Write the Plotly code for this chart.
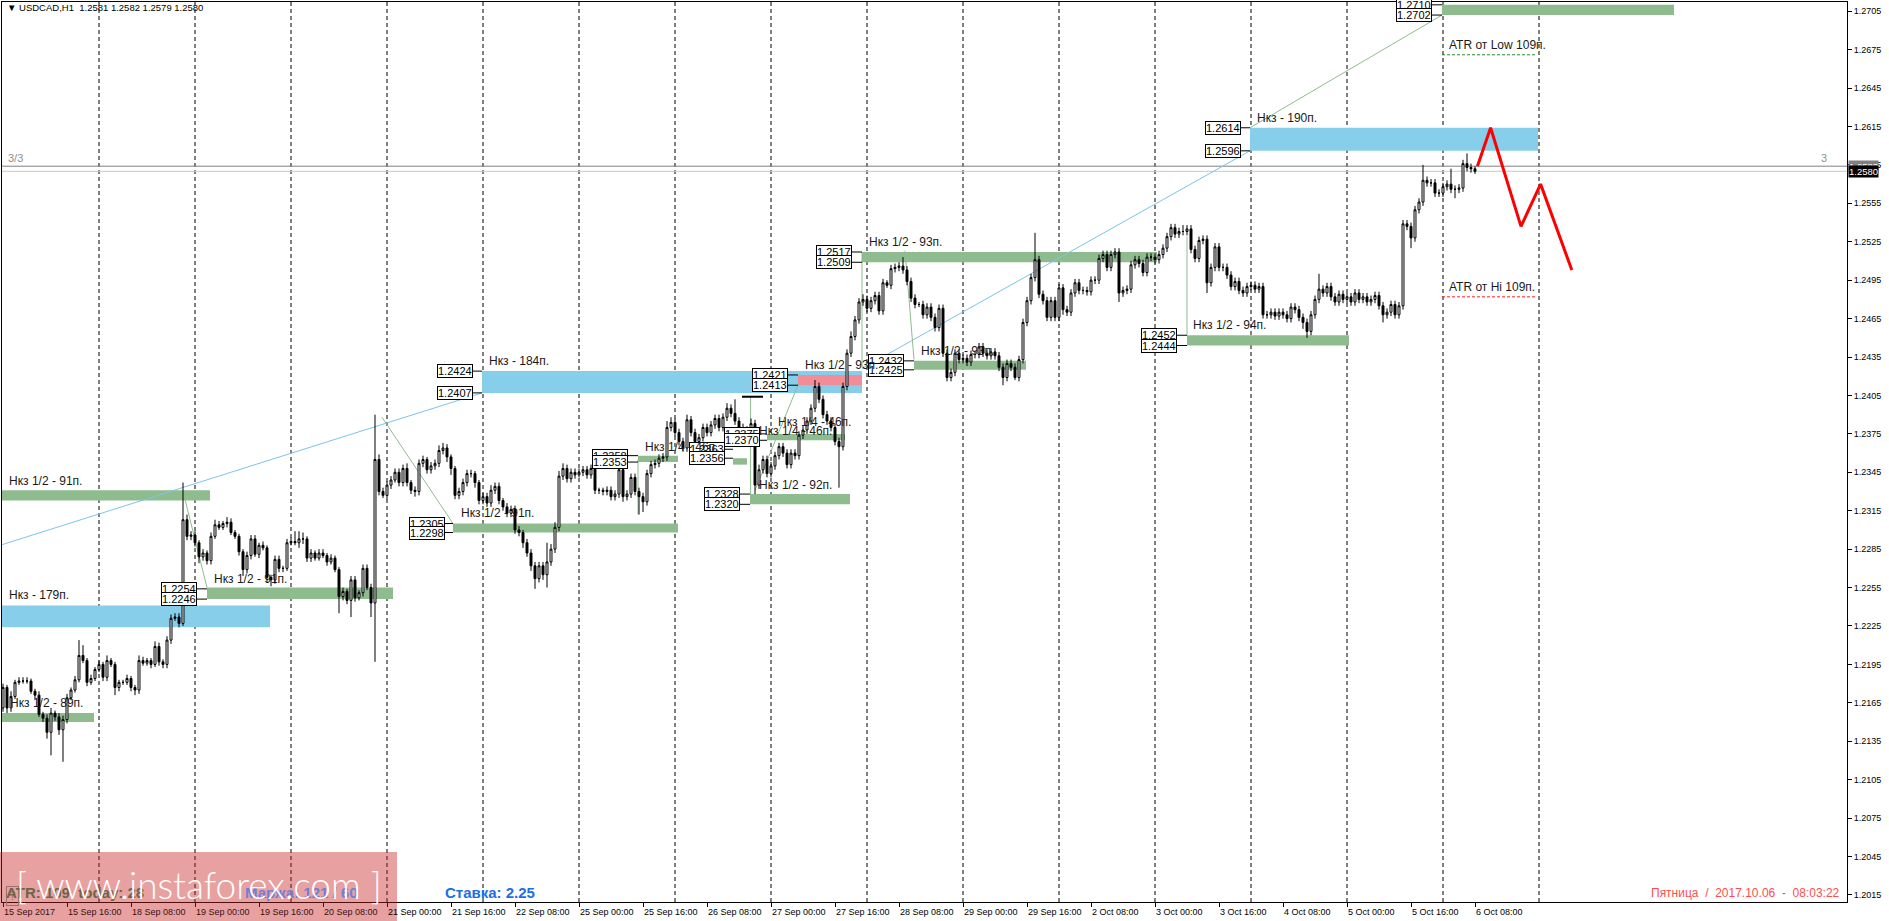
import plotly.graph_objects as go

# ---------------- DATA (prices in pips above 1.2000) ----------------
BASE = 1.2
PIP = 0.0001
OPEN0 = 161

CLOSE = [
    # 15 Sep
    177, 161, 170, 181, 182, 182, 182, 174, 171, 156, 153, 142, 157, 154, 144, 152, 169, 175, 183, 202, 198, 181, 184, 191,
    # 18 Sep
    195, 185, 198, 195, 177, 181, 181, 184, 177, 175, 198, 196, 198, 195, 209, 197, 195, 214, 231, 232, 227, 308, 295, 296,
    # 19 Sep
    290, 279, 282, 276, 295, 304, 302, 305, 306, 298, 295, 283, 269, 280, 293, 281, 288, 286, 263, 261, 277, 270, 270, 290,
    # 20 Sep
    291, 290, 293, 293, 278, 282, 278, 282, 280, 275, 278, 269, 248, 252, 245, 261, 247, 251, 270, 255, 243, 355, 330, 327,
    # 21 Sep
    335, 339, 345, 337, 348, 337, 331, 330, 352, 355, 347, 350, 352, 362, 364, 357, 348, 327, 330, 337, 344, 344, 337, 323,
    # 22 Sep
    326, 321, 331, 334, 323, 318, 313, 316, 300, 298, 290, 282, 272, 262, 272, 265, 275, 285, 302, 342, 348, 340, 345, 343,
    # 25 Sep
    345, 347, 343, 348, 331, 331, 330, 331, 326, 328, 347, 326, 328, 341, 330, 326, 322, 344, 351, 352, 356, 357, 380, 384,
    # 26 Sep
    376, 369, 364, 386, 376, 369, 372, 380, 376, 382, 387, 380, 388, 395, 391, 385, 380, 370, 378, 383, 335, 347, 355, 344,
    # 27 Sep
    350, 358, 365, 360, 351, 360, 358, 374, 378, 385, 395, 412, 402, 390, 385, 380, 369, 365, 412, 438, 451, 464, 478, 480,
    # 28 Sep
    473, 479, 483, 471, 493, 491, 504, 505, 506, 503, 494, 481, 476, 476, 468, 474, 466, 458, 473, 438, 419, 423, 438, 433,
    # 29 Sep
    434, 431, 437, 437, 443, 438, 436, 439, 436, 427, 419, 430, 427, 419, 433, 462, 479, 497, 511, 484, 479, 466, 479, 466,
    # 2 Oct
    489, 472, 470, 485, 493, 487, 487, 486, 495, 495, 512, 515, 505, 515, 517, 485, 487, 488, 507, 511, 508, 501, 513, 513,
    # 3 Oct
    511, 515, 520, 529, 536, 531, 533, 533, 535, 519, 512, 526, 527, 493, 505, 521, 505, 505, 499, 490, 494, 487, 485, 490,
    # 4 Oct
    491, 488, 490, 468, 468, 470, 467, 470, 468, 465, 474, 472, 466, 462, 455, 468, 480, 488, 485, 490, 482, 478, 484, 480,
    # 5 Oct
    482, 478, 485, 480, 482, 478, 480, 483, 475, 468, 470, 476, 468, 475, 539, 537, 528, 550, 556, 573, 571, 571, 563, 563,
    # 6 Oct
    568, 570, 566, 566, 567, 586, 583, 582, 580,
]

UPPER_WICK = [
    3, 2, 4, 2, 3, 3, 3, 2, 2, 3, 2, 3, 4, 2, 3, 3, 3, 2, 3, 12, 8, 2, 3, 2,
    3, 2, 4, 2, 2, 2, 2, 3, 2, 2, 4, 3, 2, 2, 4, 3, 2, 3, 3, 3, 3, 29, 4, 3,
    3, 2, 3, 2, 3, 4, 3, 2, 4, 3, 2, 2, 2, 3, 3, 3, 2, 3, 2, 2, 3, 3, 2, 3,
    3, 8, 6, 5, 2, 3, 2, 3, 3, 2, 3, 2, 2, 3, 2, 3, 3, 2, 3, 3, 3, 35, 4, 3,
    3, 3, 3, 3, 3, 4, 2, 3, 3, 3, 2, 3, 3, 4, 4, 3, 2, 2, 3, 3, 3, 3, 2, 2,
    3, 3, 4, 3, 3, 2, 3, 3, 3, 3, 2, 3, 3, 3, 3, 3, 15, 4, 4, 4, 4, 3, 3, 3,
    3, 3, 3, 3, 3, 2, 2, 3, 3, 3, 4, 3, 3, 3, 3, 3, 3, 3, 3, 3, 3, 3, 5, 4,
    3, 3, 3, 4, 3, 3, 3, 3, 3, 3, 3, 3, 3, 4, 3, 11, 3, 3, 3, 4, 3, 4, 3, 3,
    3, 3, 3, 3, 3, 3, 3, 3, 3, 3, 3, 5, 3, 3, 3, 3, 3, 3, 3, 3, 4, 3, 3, 4,
    3, 3, 3, 3, 3, 2, 3, 3, 3, 7, 3, 3, 3, 2, 3, 3, 3, 3, 3, 3, 3, 3, 3, 3,
    3, 3, 3, 3, 3, 3, 3, 3, 3, 3, 3, 3, 3, 3, 3, 3, 3, 3, 21, 3, 3, 3, 3, 3,
    3, 3, 3, 3, 3, 3, 3, 3, 3, 3, 3, 3, 3, 3, 3, 3, 3, 3, 3, 3, 3, 3, 3, 3,
    3, 3, 3, 3, 3, 3, 3, 5, 3, 3, 3, 3, 3, 3, 3, 3, 3, 3, 3, 3, 3, 3, 3, 3,
    3, 3, 3, 3, 3, 3, 3, 3, 3, 3, 3, 3, 3, 3, 3, 3, 3, 12, 3, 3, 3, 3, 3, 3,
    3, 3, 3, 3, 3, 3, 3, 3, 3, 3, 3, 3, 3, 3, 3, 3, 3, 3, 3, 12, 3, 3, 3, 3,
    3, 3, 12, 3, 3, 3, 8, 3, 2,
]

LOWER_WICK = [
    3, 4, 3, 2, 2, 2, 2, 2, 3, 2, 3, 5, 18, 3, 4, 25, 3, 2, 2, 2, 2, 3, 2, 2,
    2, 3, 3, 2, 6, 3, 2, 2, 3, 4, 3, 2, 2, 3, 2, 3, 3, 3, 3, 2, 3, 2, 3, 3,
    3, 5, 3, 3, 3, 2, 2, 2, 3, 2, 2, 3, 5, 3, 3, 2, 3, 2, 4, 5, 3, 3, 3, 2,
    2, 2, 4, 4, 3, 3, 2, 2, 2, 3, 2, 2, 13, 3, 3, 13, 3, 2, 3, 2, 11, 46, 3, 2,
    3, 3, 2, 3, 3, 3, 3, 4, 3, 3, 3, 3, 3, 3, 3, 4, 5, 3, 3, 3, 3, 3, 4, 3,
    3, 3, 3, 3, 3, 3, 3, 3, 3, 3, 4, 3, 4, 8, 3, 4, 10, 3, 3, 3, 3, 3, 3, 3,
    2, 3, 3, 3, 3, 3, 3, 3, 3, 3, 3, 4, 3, 3, 3, 14, 8, 3, 3, 3, 3, 3, 3, 3,
    3, 3, 3, 3, 3, 3, 3, 3, 3, 3, 3, 3, 3, 3, 3, 3, 3, 4, 3, 3, 7, 3, 3, 3,
    3, 3, 3, 3, 3, 3, 3, 3, 3, 3, 3, 3, 3, 3, 3, 3, 3, 32, 3, 3, 3, 3, 3, 3,
    3, 3, 3, 3, 3, 2, 3, 3, 3, 3, 3, 3, 3, 2, 3, 3, 3, 3, 3, 3, 3, 3, 3, 3,
    3, 3, 3, 3, 3, 3, 3, 3, 3, 3, 6, 3, 3, 2, 3, 3, 3, 3, 3, 3, 3, 3, 3, 3,
    3, 4, 3, 3, 3, 3, 3, 3, 3, 3, 3, 3, 3, 3, 3, 7, 3, 3, 3, 3, 3, 3, 3, 3,
    3, 3, 3, 3, 3, 3, 3, 3, 3, 3, 3, 3, 3, 8, 3, 3, 3, 3, 3, 3, 3, 3, 3, 3,
    3, 3, 3, 3, 3, 3, 3, 3, 3, 3, 3, 3, 3, 5, 5, 3, 3, 3, 3, 3, 3, 3, 3, 3,
    3, 3, 3, 3, 3, 3, 3, 3, 3, 6, 3, 3, 3, 3, 3, 3, 8, 3, 3, 3, 3, 3, 3, 3,
    3, 3, 3, 7, 3, 3, 3, 3, 2,
]

TICK_BARS = [0, 16, 32, 48, 64, 80, 96, 112, 128, 144, 160, 176, 192, 208, 224, 240,
             256, 272, 288, 304, 320, 336, 352, 368]
TICK_LABELS = ["15 Sep 2017", "15 Sep 16:00", "18 Sep 08:00", "19 Sep 00:00", "19 Sep 16:00",
               "20 Sep 08:00", "21 Sep 00:00", "21 Sep 16:00", "22 Sep 08:00", "25 Sep 00:00",
               "25 Sep 16:00", "26 Sep 08:00", "27 Sep 00:00", "27 Sep 16:00", "28 Sep 08:00",
               "29 Sep 00:00", "29 Sep 16:00", "2 Oct 08:00", "3 Oct 00:00", "3 Oct 16:00",
               "4 Oct 08:00", "5 Oct 00:00", "5 Oct 16:00", "6 Oct 08:00"]
SEPARATOR_BARS = [24, 48, 72, 96, 120, 144, 168, 192, 216, 240, 264, 288, 312, 336, 360, 384]

# zones: top, bottom, start bar, end bar, colour key
ZONES = [
    (1.2157, 1.2150, -0.75, 22.75, "g"),
    (1.2241, 1.2224, -0.75, 66.75, "b"),
    (1.2331, 1.2323, -0.75, 51.75, "g"),
    (1.2255, 1.2246, 51.0, 97.5, "g"),
    (1.2424, 1.2407, 119.75, 214.75, "b"),
    (1.2421, 1.2413, 198.75, 214.75, "p"),
    (1.2305, 1.2298, 112.5, 168.75, "g"),
    (1.2358, 1.2353, 158.75, 168.75, "g"),
    (1.2356, 1.2351, 182.5, 186.0, "g"),
    (1.2375, 1.2370, 191.0, 210.5, "g"),
    (1.2328, 1.2320, 186.75, 211.75, "g"),
    (1.2517, 1.2509, 214.75, 288.5, "g"),
    (1.2432, 1.2425, 227.75, 255.75, "g"),
    (1.2452, 1.2444, 296.0, 336.5, "g"),
    (1.2614, 1.2596, 311.75, 383.75, "b"),
    (1.2710, 1.2702, 359.75, 417.75, "g"),
]

# price boxes: value, box right edge bar, zone start bar
PRICE_BOXES = [
    (1.2254, 48.5, 51.0), (1.2246, 48.5, 51.0),
    (1.2424, 117.5, 119.75), (1.2407, 117.5, 119.75),
    (1.2305, 110.5, 112.5), (1.2298, 110.5, 112.5),
    (1.2358, 156.25, 158.75), (1.2353, 156.25, 158.75),
    (1.2363, 180.5, 182.5), (1.2356, 180.5, 182.5),
    (1.2375, 189.25, 191.0), (1.2370, 189.25, 191.0),
    (1.2421, 196.25, 198.75), (1.2413, 196.25, 198.75),
    (1.2328, 184.25, 186.75), (1.2320, 184.25, 186.75),
    (1.2517, 212.25, 214.75), (1.2509, 212.25, 214.75),
    (1.2432, 225.25, 227.75), (1.2425, 225.25, 227.75),
    (1.2452, 293.5, 296.0), (1.2444, 293.5, 296.0),
    (1.2614, 309.5, 311.75), (1.2596, 309.5, 311.75),
    (1.2710, 357.25, 359.75), (1.2702, 357.25, 359.75),
]

ZONE_LABELS = [
    ("Нкз 1/2 - 89п.", 1.25, 1.2165),
    ("Нкз - 179п.", 1.0, 1.2249),
    ("Нкз 1/2 - 91п.", 1.0, 1.2338),
    ("Нкз 1/2 - 91п.", 52.25, 1.2262),
    ("Нкз - 184п.", 121.0, 1.2432),
    ("Нкз 1/2 - 91п.", 114.0, 1.2313),
    ("Нкз 1/4 - 46п.", 160.0, 1.2365),
    ("Нкз 1/4 - 46п.", 188.5, 1.2377),
    ("Нкз 1/4 - 46п.", 193.25, 1.2384),
    ("Нкз 1/2 - 93п.", 200.0, 1.2429),
    ("Нкз 1/2 - 92п.", 188.5, 1.2335),
    ("Нкз 1/2 - 93п.", 216.0, 1.2525),
    ("Нкз 1/2 - 93п.", 229.0, 1.2440),
    ("Нкз 1/2 - 94п.", 297.0, 1.2460),
    ("Нкз - 190п.", 313.0, 1.2622),
    ("ATR от Low 109п.", 361.0, 1.2679),
    ("ATR от Hi 109п.", 361.0, 1.2490),
]

# thin drawn lines: x0, p0, x1, p1, colour key
TREND_LINES = [
    (-0.75, 1.2288, 119.75, 1.2407, "b"),
    (214.75, 1.2426, 311.75, 1.2596, "b"),
    (311.75, 1.2614, 359.75, 1.2702, "g"),
    (45.25, 1.2327, 51.0, 1.2255, "g"),
    (94.75, 1.2388, 112.5, 1.2305, "g"),
    (158.75, 1.2355, 158.75, 1.2312, "g"),
    (186.9, 1.2404, 186.9, 1.2327, "g"),
    (188.0, 1.2331, 199.0, 1.2415, "g"),
    (214.75, 1.2517, 214.75, 1.2427, "g"),
    (225.5, 1.2518, 227.75, 1.2433, "g"),
    (296.0, 1.2529, 296.0, 1.2452, "g"),
]

ATR_LOW = 1.2671
ATR_HI = 1.2482
ATR_X = (359.75, 383.5)

ZIG_X = [368.6, 371.9, 379.5, 384.4, 392.2]
ZIG_Y = [1.2584, 1.2614, 1.2537, 1.2570, 1.2503]

LEVEL_LINE = 1.2584
BID = 1.2580

# ---------------- BUILD ----------------
FONT = "Liberation Sans, Arial, sans-serif"
COL = {"g": "#8fbc8f", "b": "#87ceeb", "p": "#f28c96"}
LINE_COL = {"g": "#8fbc8f", "b": "#7cc4e8"}

closes = [BASE + c * PIP for c in CLOSE]
opens = [BASE + OPEN0 * PIP] + closes[:-1]
highs = [max(o, c) + u * PIP for o, c, u in zip(opens, closes, UPPER_WICK)]
lows = [min(o, c) - w * PIP for o, c, w in zip(opens, closes, LOWER_WICK)]
xs = list(range(len(closes)))

fig = go.Figure()
fig.add_trace(go.Candlestick(
    x=xs, open=opens, high=highs, low=lows, close=closes,
    increasing=dict(line=dict(color="black", width=1), fillcolor="white"),
    decreasing=dict(line=dict(color="black", width=1), fillcolor="black"),
    whiskerwidth=0, showlegend=False, hoverinfo="skip",
))
fig.add_trace(go.Scatter(x=ZIG_X, y=ZIG_Y, mode="lines",
                         line=dict(color="#ff0000", width=3),
                         showlegend=False, hoverinfo="skip"))

shapes = []
for top, bot, x0, x1, c in ZONES:
    shapes.append(dict(type="rect", xref="x", yref="y", x0=x0, x1=x1, y0=bot, y1=top,
                       fillcolor=COL[c], line=dict(width=0), layer="below"))
for b in SEPARATOR_BARS:
    shapes.append(dict(type="line", xref="x", yref="paper", x0=b, x1=b, y0=0, y1=1,
                       line=dict(color="black", width=1, dash="4px,3px"), layer="below"))
for x0, p0, x1, p1, c in TREND_LINES:
    shapes.append(dict(type="line", xref="x", yref="y", x0=x0, x1=x1, y0=p0, y1=p1,
                       line=dict(color=LINE_COL[c], width=1), layer="below"))
shapes.append(dict(type="line", xref="x", yref="y", x0=184.75, x1=190.0, y0=1.2404, y1=1.2404,
                   line=dict(color="black", width=2), layer="above"))
for val, xr, xz in PRICE_BOXES:
    shapes.append(dict(type="line", xref="x", yref="y", x0=xr, x1=xz, y0=val, y1=val,
                       line=dict(color="black", width=1), layer="below"))
shapes.append(dict(type="line", xref="x", yref="y", x0=ATR_X[0], x1=ATR_X[1], y0=ATR_LOW, y1=ATR_LOW,
                   line=dict(color="#2e8b2e", width=1, dash="3px,2px")))
shapes.append(dict(type="line", xref="x", yref="y", x0=ATR_X[0], x1=ATR_X[1], y0=ATR_HI, y1=ATR_HI,
                   line=dict(color="#ff2020", width=1, dash="3px,2px")))
shapes.append(dict(type="line", xref="paper", yref="y", x0=0, x1=1, y0=LEVEL_LINE, y1=LEVEL_LINE,
                   line=dict(color="#808080", width=1), layer="below"))
shapes.append(dict(type="line", xref="paper", yref="y", x0=0, x1=1, y0=BID, y1=BID,
                   line=dict(color="#c8c8c8", width=1), layer="below"))
# watermark panel
shapes.append(dict(type="rect", xref="paper", yref="paper", x0=-0.0011, x1=0.2141, y0=-0.03, y1=0.0556,
                   fillcolor="rgba(200,30,30,0.42)", line=dict(width=0), layer="above"))

ann = []
for val, xr, xz in PRICE_BOXES:
    ann.append(dict(xref="x", yref="y", x=xr, y=val, text=f"{val:.4f}", showarrow=False,
                    xanchor="right", yanchor="middle", font=dict(family=FONT, size=11, color="black"),
                    bgcolor="white", bordercolor="black", borderwidth=1, borderpad=0))
for txt, xb, p in ZONE_LABELS:
    ann.append(dict(xref="x", yref="y", x=xb, y=p, text=txt, showarrow=False,
                    xanchor="left", yanchor="middle", font=dict(family=FONT, size=12, color="#1a1a1a")))
for b, lab in zip(TICK_BARS, TICK_LABELS):
    ann.append(dict(xref="x", yref="paper", x=b, y=0, yshift=-3, text=lab, showarrow=False,
                    xanchor="left", yanchor="top", xshift=-1,
                    font=dict(family=FONT, size=9, color="#3a1010" if b <= 80 else "black")))

ann.append(dict(xref="paper", yref="paper", x=0.0016, y=0.9935, showarrow=False,
                text="▼ USDCAD,H1\u00a0\u00a01.2581 1.2582 1.2579 1.2580", xanchor="left", yanchor="middle",
                font=dict(family=FONT, size=9.5, color="black")))
ann.append(dict(xref="paper", yref="paper", x=0.0022, y=0.8267, showarrow=False, text="3/3",
                xanchor="left", yanchor="middle", font=dict(family=FONT, size=11, color="#909090")))
ann.append(dict(xref="paper", yref="paper", x=0.9905, y=0.8267, showarrow=False, text="3",
                xanchor="right", yanchor="middle", font=dict(family=FONT, size=11, color="#909090")))
ann.append(dict(xref="paper", yref="y", x=1.0, xshift=1, y=LEVEL_LINE, showarrow=False, text="1.2583",
                xanchor="left", yanchor="middle", bgcolor="#808080", borderpad=0,
                font=dict(family=FONT, size=9.5, color="white")))
ann.append(dict(xref="paper", yref="y", x=1.0, xshift=1, y=BID, showarrow=False, text="1.2580",
                xanchor="left", yanchor="middle", bgcolor="black", borderpad=0,
                font=dict(family=FONT, size=9.5, color="white")))
ann.append(dict(xref="paper", yref="paper", x=0.9973, y=0.0095, showarrow=False,
                text="Пятница\u00a0\u00a0/\u00a0\u00a02017.10.06\u00a0\u00a0-\u00a0\u00a008:03:22",
                xanchor="right", yanchor="middle", font=dict(family=FONT, size=12, color="#ff4d4d")))
ann.append(dict(xref="paper", yref="paper", x=0.2390, y=0.0111, showarrow=False,
                text="<b>Ставка: 2.25</b>", xanchor="left", yanchor="middle",
                font=dict(family=FONT, size=15, color="#1c6fe6")))
ann.append(dict(xref="paper", yref="paper", x=0.0022, y=0.0067, showarrow=False, text="?",
                xanchor="left", yanchor="middle", bordercolor="#9a7070", borderwidth=1, borderpad=2,
                font=dict(family=FONT, size=12, color="#9a7070")))
ann.append(dict(xref="paper", yref="paper", x=0.0011, y=0.0111, showarrow=False,
                text="<b>ATR: 109\u00a0\u00a0today: 28</b>", xanchor="left", yanchor="middle",
                font=dict(family=FONT, size=15, color="#6e6446")))
ann.append(dict(xref="paper", yref="paper", x=0.1306, y=0.0111, showarrow=False,
                text="<b>Маржа: 121 / 60</b>", xanchor="left", yanchor="middle",
                font=dict(family=FONT, size=15, color="#6f7fd6")))
ann.append(dict(xref="paper", yref="paper", x=0.1068, y=0.019, showarrow=False,
                text="[ www.instaforex.com ]", xanchor="center", yanchor="middle",
                font=dict(family="Lato, Liberation Sans, sans-serif", size=37, color="white", weight=300)))

fig.update_layout(
    width=1889, height=921,
    margin=dict(l=2, r=42, t=2, b=19),
    paper_bgcolor="white", plot_bgcolor="white",
    shapes=shapes, annotations=ann,
    xaxis=dict(range=[-0.25, 461], showgrid=False, zeroline=False, showline=True, mirror=True,
               linecolor="black", linewidth=1, ticks="outside", ticklen=4, tickcolor="black",
               tickvals=TICK_BARS, showticklabels=False, rangeslider=dict(visible=False),
               fixedrange=True),
    yaxis=dict(range=[1.20095, 1.27122], side="right", showgrid=False, zeroline=False,
               showline=True, mirror=True, linecolor="black", linewidth=1,
               tick0=1.2015, dtick=0.003, tickformat=".4f", ticks="outside", ticklen=4,
               tickcolor="black", tickfont=dict(family=FONT, size=9, color="black"),
               fixedrange=True),
    showlegend=False,
)

fig.write_html("out.html", config={"displayModeBar": False},
               post_script="document.body.style.margin='0';document.body.style.overflow='hidden';")
